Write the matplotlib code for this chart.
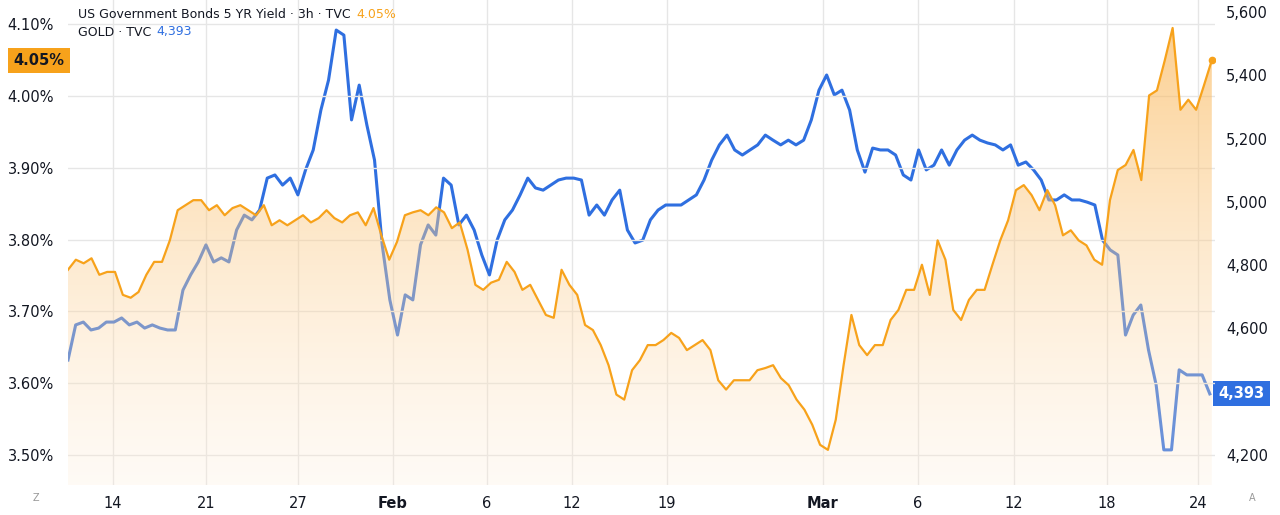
import numpy as np
import matplotlib
matplotlib.use("Agg")
import matplotlib.pyplot as plt
from matplotlib.patches import Polygon

gold = [4500,4611,4620,4595,4601,4620,4620,4633,4611,4620,4601,4611,4601,4595,4595,4721,4769,4810,4864,4810,4823,4810,4911,4958,4943,4974,5075,5085,5053,5075,5022,5101,5164,5290,5385,5543,5527,5259,5369,5243,5132,4864,4690,4579,4706,4690,4864,4927,4895,5075,5053,4927,4958,4911,4832,4769,4879,4943,4974,5022,5075,5044,5037,5053,5069,5075,5075,5069,4958,4990,4958,5006,5037,4911,4870,4879,4943,4974,4990,4990,4990,5006,5022,5069,5132,5180,5211,5164,5148,5164,5180,5211,5195,5180,5195,5180,5195,5259,5353,5401,5338,5353,5290,5164,5094,5170,5164,5164,5148,5085,5069,5164,5101,5116,5164,5116,5164,5195,5211,5195,5186,5180,5164,5180,5116,5126,5101,5069,5006,5006,5022,5006,5006,4999,4990,4879,4848,4832,4579,4642,4674,4532,4421,4216,4216,4469,4453,4453,4453,4393]
yld = [3.758,3.772,3.767,3.774,3.751,3.755,3.755,3.723,3.719,3.727,3.751,3.769,3.769,3.799,3.841,3.848,3.855,3.855,3.841,3.848,3.834,3.844,3.848,3.841,3.834,3.848,3.820,3.827,3.820,3.827,3.834,3.824,3.830,3.841,3.830,3.824,3.834,3.838,3.820,3.844,3.806,3.772,3.797,3.834,3.838,3.841,3.834,3.845,3.838,3.816,3.824,3.786,3.737,3.730,3.740,3.744,3.769,3.755,3.730,3.737,3.716,3.695,3.691,3.758,3.737,3.723,3.681,3.674,3.653,3.625,3.584,3.577,3.618,3.632,3.653,3.653,3.660,3.670,3.663,3.646,3.653,3.660,3.646,3.604,3.591,3.604,3.604,3.604,3.618,3.621,3.625,3.607,3.597,3.577,3.563,3.542,3.514,3.507,3.549,3.625,3.695,3.653,3.639,3.653,3.653,3.688,3.702,3.730,3.730,3.765,3.723,3.799,3.772,3.702,3.688,3.716,3.730,3.730,3.765,3.799,3.827,3.869,3.876,3.862,3.841,3.869,3.848,3.806,3.813,3.799,3.792,3.772,3.765,3.855,3.897,3.904,3.925,3.883,4.001,4.008,4.050,4.095,3.981,3.995,3.981,4.015,4.050]

gold_t = np.linspace(0, 142.75, len(gold))
yld_t = np.linspace(0, 143.0, len(yld))

tick_pos = [5.625,17.25,28.75,40.625,52.375,63,74.875,94.375,106.25,118.25,129.875,141.25]
tick_lab = ["14","21","27","Feb","6","12","19","Mar","6","12","18","24"]
left_ticks = [3.50,3.60,3.70,3.80,3.90,4.00,4.10]
right_ticks = [4200,4400,4600,4800,5000,5200,5400,5600]

ORANGE = "#f7a21b"
BLUE = "#2f6fe0"
TXT = "#131722"

fig = plt.figure(figsize=(12.8, 5.15), dpi=100)
ax1 = fig.add_axes([68/1280, 30/515, (1215-68)/1280, 485/515])
ax2 = ax1.twinx()
ax1.set_zorder(ax2.get_zorder() + 1)
ax1.patch.set_visible(False)

xmax = 143.4
YL = (3.458, 4.134)
ax1.set_xlim(0, xmax)
ax1.set_ylim(*YL)
ax2.set_ylim(4105, 5638)

for t in tick_pos:
    ax2.axvline(t, color="#e6e6e6", lw=1, zorder=0)
for v in left_ticks:
    ax1.axhline(v, color="#e6e6e6", lw=1, zorder=0)

ax2.plot(gold_t, gold, color=BLUE, lw=2.2, zorder=2)

grad = np.linspace(0, 1, 256).reshape(-1, 1)
cmap = matplotlib.colors.LinearSegmentedColormap.from_list(
    "g", [(1, 0.93, 0.85, 0.25), (0.98, 0.70, 0.30, 0.62)])
im = ax1.imshow(grad, aspect="auto", cmap=cmap, origin="lower",
                extent=[0, xmax, YL[0], max(yld)], zorder=3)
poly = Polygon(list(zip(yld_t, yld)) + [(yld_t[-1], YL[0]), (yld_t[0], YL[0])],
               closed=True, facecolor="none", edgecolor="none")
ax1.add_patch(poly)
im.set_clip_path(poly)
ax1.plot(yld_t, yld, color=ORANGE, lw=1.6, zorder=4)
ax1.plot([yld_t[-1]], [yld[-1]], "o", color=ORANGE, ms=4.5, zorder=5)
ax1.set_xlim(0, xmax)
ax1.set_ylim(*YL)

ax1.set_yticks(left_ticks)
ax1.set_yticklabels([f"{v:.2f}%" for v in left_ticks], fontsize=10.5, color=TXT)
ax2.set_yticks(right_ticks)
ax2.set_yticklabels(["" if v == 4400 else f"{v:,}" for v in right_ticks], fontsize=10.5, color=TXT)
ax1.set_xticks(tick_pos)
ax1.set_xticklabels(tick_lab, fontsize=10.5, color=TXT)
for lab in ax1.get_xticklabels():
    if lab.get_text() in ("Feb", "Mar"):
        lab.set_fontweight("bold")
for a in (ax1, ax2):
    a.tick_params(length=0, pad=8)
    for s in a.spines.values():
        s.set_visible(False)
ax1.tick_params(axis="y", pad=10)

ax1.text(-0.003, yld[-1], "4.05%", transform=ax1.get_yaxis_transform(), ha="right", va="center",
         fontsize=10.5, color=TXT, fontweight="bold",
         bbox=dict(boxstyle="square,pad=0.35", fc=ORANGE, ec="none"))
ax2.text(1.003, gold[-1], "4,393", transform=ax2.get_yaxis_transform(), ha="left", va="center",
         fontsize=10.5, color="white", fontweight="bold",
         bbox=dict(boxstyle="square,pad=0.35", fc=BLUE, ec="none"))

t1 = fig.text(78/1280, 1 - 14/515, "US Government Bonds 5 YR Yield · 3h · TVC", fontsize=9, color=TXT, va="center")
fig.text(0, 0, "", fontsize=9)
ax1.annotate("4.05%", xy=(1, 0.5), xycoords=t1, xytext=(4, 0), textcoords="offset points",
             fontsize=9, color=ORANGE, va="center", ha="left", annotation_clip=False)
t2 = fig.text(78/1280, 1 - 32/515, "GOLD · TVC", fontsize=9, color=TXT, va="center")
ax1.annotate("4,393", xy=(1, 0.5), xycoords=t2, xytext=(4, 0), textcoords="offset points",
             fontsize=9, color=BLUE, va="center", ha="left", annotation_clip=False)

fig.text(36/1280, 1 - 498/515, "Z", fontsize=7, color="#999999", ha="center", va="center")
fig.text(1252/1280, 1 - 498/515, "A", fontsize=7, color="#999999", ha="center", va="center")

fig.savefig("out.png", dpi=100, facecolor="white")
